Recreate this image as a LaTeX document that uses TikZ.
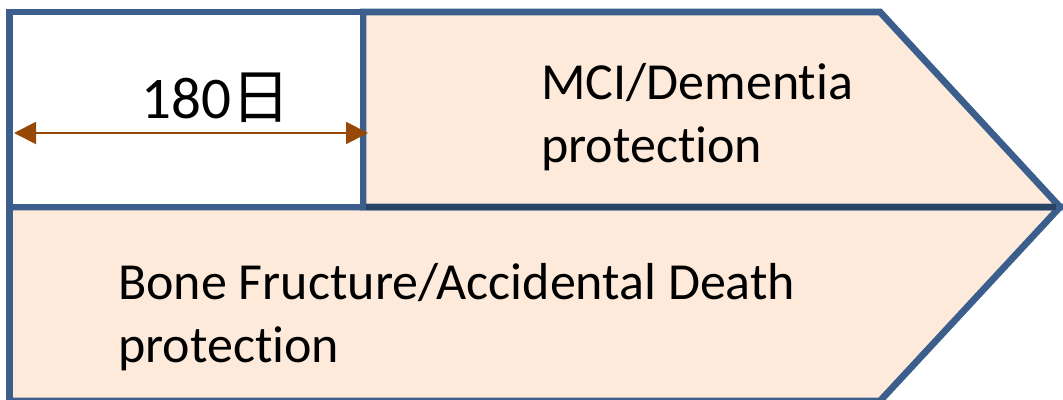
\documentclass[tikz,border=0pt]{standalone}
\usepackage{fontspec}
\setmainfont{Carlito}[Ligatures=NoCommon]
\newfontfamily\jpfont{Noto Sans CJK JP}
\usetikzlibrary{arrows.meta}

\definecolor{frameblue}{RGB}{59,94,140}
\definecolor{darkblue}{RGB}{42,66,100}
\definecolor{peach}{RGB}{253,234,218}
\definecolor{rust}{RGB}{151,72,6}

\tikzset{
  band/.style={draw=frameblue, fill=peach, line width=4.8pt, line join=miter},
  label/.style={align=left, inner sep=0pt, anchor=base west, font=\fontsize{37}{44.5}\selectfont}
}

\begin{document}
\begin{tikzpicture}

\useasboundingbox (0,0) rectangle (26.575,9.975);

\draw[band] (0.24,4.8) -- (26.5,4.8) -- (22,-0.05) -- (0.24,-0.05) -- cycle;
\draw[band] (9.075,9.675) -- (22,9.675) -- (26.5,4.8) -- (9.075,4.8) -- cycle;
\draw[band, fill=white] (0.24,4.8) rectangle (9.075,9.675);

% overlapping edges look darker
\coordinate (m1) at (9.16,4.8);
\coordinate (m2) at (26.4,4.8);
\draw[darkblue, line width=4.8pt] (m1) -- (m2);

\coordinate (p1) at (0.35,6.65);
\coordinate (p2) at (9.2,6.65);
\draw[rust, line width=1.4pt, {Triangle[length=0.55cm,width=0.55cm]}-{Triangle[length=0.55cm,width=0.55cm]}] (p1) -- (p2);

\node[inner sep=0pt, anchor=base, font=\fontsize{42}{50}\selectfont] at (5.4,7.025) (days) {180{\jpfont 日}};

% base anchor sits on the last line
\node[label] at (13.525,5.925) (mci) {MCI/Dementia\\protection};
\node[label] at (2.95,0.925) (bone) {Bone Fructure/Accidental Death\\protection};

\end{tikzpicture}
\end{document}
